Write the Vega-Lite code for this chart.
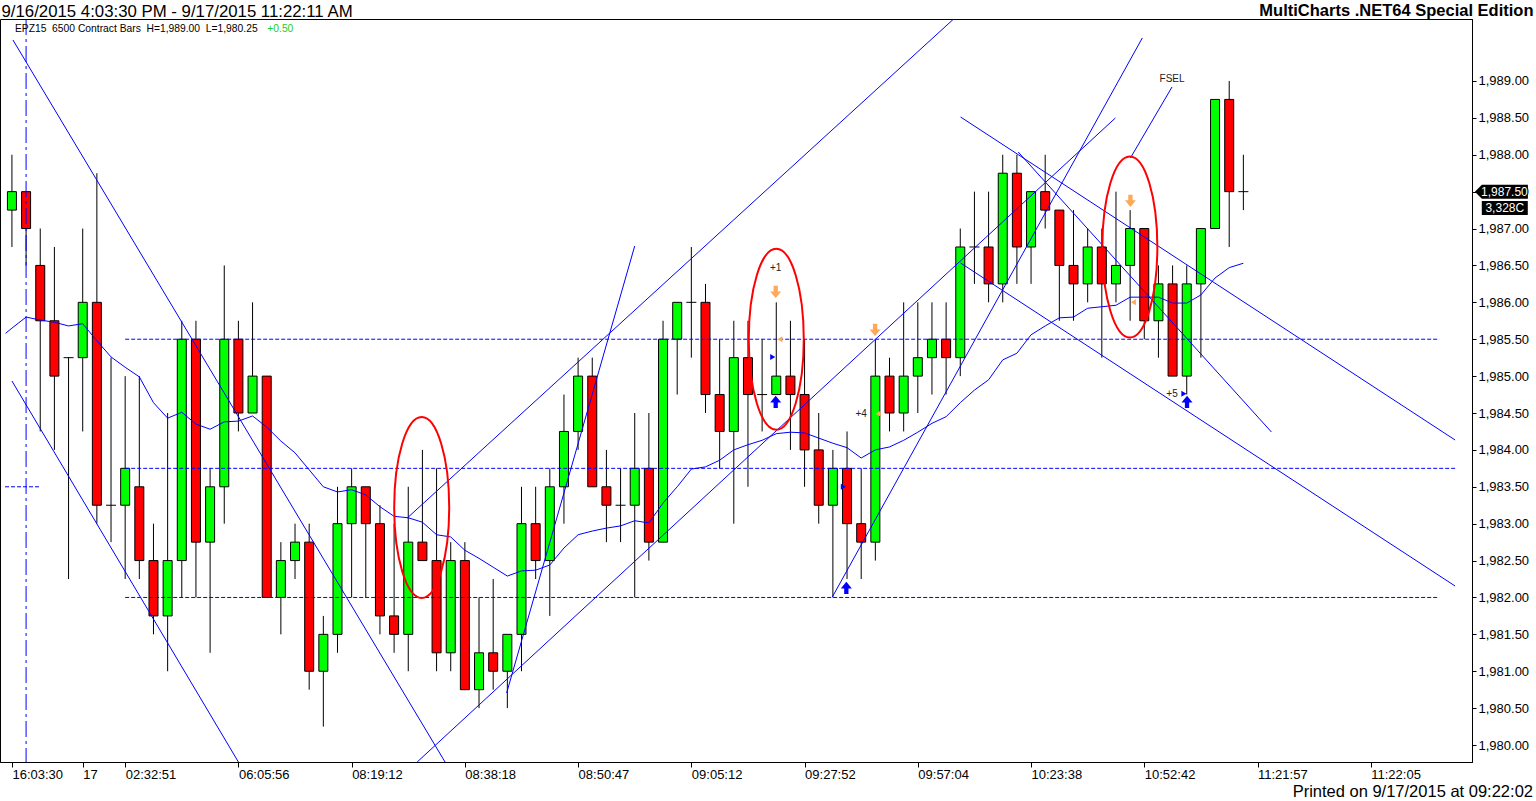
{
  "$schema": "https://vega.github.io/schema/vega-lite/v6.json",
  "description": "EPZ15 6500 contract bars with trend lines, moving average and signal markers.",
  "width": 1472,
  "height": 743,
  "autosize": {"type": "none"},
  "padding": {"left": 0, "top": 19, "right": 64, "bottom": 39},
  "background": "white",
  "title": {
    "text": "Printed on 9/17/2015 at 09:22:02",
    "orient": "bottom",
    "anchor": "end",
    "frame": "group",
    "fontSize": 16.5,
    "fontWeight": "normal",
    "color": "black",
    "baseline": "alphabetic",
    "offset": 16,
    "dx": 61
  },
  "config": {
    "font": "Liberation Sans",
    "view": {"stroke": "black", "strokeWidth": 1}
  },
  "datasets": {
    "candles": [
      {"i": 0, "o": 1987.25, "h": 1988.0, "l": 1986.75, "c": 1987.5},
      {"i": 1, "o": 1987.5, "h": 1987.5, "l": 1986.5, "c": 1987.0},
      {"i": 2, "o": 1986.5, "h": 1987.0, "l": 1984.25, "c": 1985.75},
      {"i": 3, "o": 1985.75, "h": 1986.75, "l": 1984.0, "c": 1985.0},
      {"i": 4, "o": 1985.25, "h": 1985.25, "l": 1982.25, "c": 1985.25},
      {"i": 5, "o": 1985.25, "h": 1987.0, "l": 1984.25, "c": 1986.0},
      {"i": 6, "o": 1986.0, "h": 1987.75, "l": 1983.0, "c": 1983.25},
      {"i": 7, "o": 1983.25, "h": 1985.25, "l": 1982.75, "c": 1983.25},
      {"i": 8, "o": 1983.25, "h": 1985.0, "l": 1982.25, "c": 1983.75},
      {"i": 9, "o": 1983.5, "h": 1985.0, "l": 1982.25, "c": 1982.5},
      {"i": 10, "o": 1982.5, "h": 1983.0, "l": 1981.5, "c": 1981.75},
      {"i": 11, "o": 1981.75, "h": 1984.5, "l": 1981.0, "c": 1982.5},
      {"i": 12, "o": 1982.5, "h": 1985.75, "l": 1982.0, "c": 1985.5},
      {"i": 13, "o": 1985.5, "h": 1985.75, "l": 1982.0, "c": 1982.75},
      {"i": 14, "o": 1982.75, "h": 1983.75, "l": 1981.25, "c": 1983.5},
      {"i": 15, "o": 1983.5, "h": 1986.5, "l": 1983.0, "c": 1985.5},
      {"i": 16, "o": 1985.5, "h": 1985.75, "l": 1984.25, "c": 1984.5},
      {"i": 17, "o": 1984.5, "h": 1986.0, "l": 1984.5, "c": 1985.0},
      {"i": 18, "o": 1985.0, "h": 1985.0, "l": 1982.0, "c": 1982.0},
      {"i": 19, "o": 1982.0, "h": 1982.75, "l": 1981.5, "c": 1982.5},
      {"i": 20, "o": 1982.5, "h": 1983.0, "l": 1982.25, "c": 1982.75},
      {"i": 21, "o": 1982.75, "h": 1983.0, "l": 1980.75, "c": 1981.0},
      {"i": 22, "o": 1981.0, "h": 1981.75, "l": 1980.25, "c": 1981.5},
      {"i": 23, "o": 1981.5, "h": 1983.5, "l": 1981.25, "c": 1983.0},
      {"i": 24, "o": 1983.0, "h": 1983.75, "l": 1982.0, "c": 1983.5},
      {"i": 25, "o": 1983.5, "h": 1983.5, "l": 1982.0, "c": 1983.0},
      {"i": 26, "o": 1983.0, "h": 1983.25, "l": 1981.5, "c": 1981.75},
      {"i": 27, "o": 1981.75, "h": 1983.0, "l": 1981.25, "c": 1981.5},
      {"i": 28, "o": 1981.5, "h": 1983.5, "l": 1981.0, "c": 1982.75},
      {"i": 29, "o": 1982.75, "h": 1984.0, "l": 1982.5, "c": 1982.5},
      {"i": 30, "o": 1982.5, "h": 1983.75, "l": 1981.0, "c": 1981.25},
      {"i": 31, "o": 1981.25, "h": 1982.75, "l": 1981.0, "c": 1982.5},
      {"i": 32, "o": 1982.5, "h": 1982.75, "l": 1980.75, "c": 1980.75},
      {"i": 33, "o": 1980.75, "h": 1982.0, "l": 1980.5, "c": 1981.25},
      {"i": 34, "o": 1981.25, "h": 1982.25, "l": 1980.75, "c": 1981.0},
      {"i": 35, "o": 1981.0, "h": 1981.5, "l": 1980.5, "c": 1981.5},
      {"i": 36, "o": 1981.5, "h": 1983.5, "l": 1981.0, "c": 1983.0},
      {"i": 37, "o": 1983.0, "h": 1983.5, "l": 1982.25, "c": 1982.5},
      {"i": 38, "o": 1982.5, "h": 1983.75, "l": 1981.75, "c": 1983.5},
      {"i": 39, "o": 1983.5, "h": 1984.75, "l": 1983.0, "c": 1984.25},
      {"i": 40, "o": 1984.25, "h": 1985.25, "l": 1984.0, "c": 1985.0},
      {"i": 41, "o": 1985.0, "h": 1985.25, "l": 1983.5, "c": 1983.5},
      {"i": 42, "o": 1983.5, "h": 1984.0, "l": 1982.75, "c": 1983.25},
      {"i": 43, "o": 1983.25, "h": 1983.75, "l": 1982.75, "c": 1983.25},
      {"i": 44, "o": 1983.25, "h": 1984.5, "l": 1982.0, "c": 1983.75},
      {"i": 45, "o": 1983.75, "h": 1984.5, "l": 1982.5, "c": 1982.75},
      {"i": 46, "o": 1982.75, "h": 1985.75, "l": 1982.75, "c": 1985.5},
      {"i": 47, "o": 1985.5, "h": 1986.0, "l": 1984.75, "c": 1986.0},
      {"i": 48, "o": 1986.0, "h": 1986.75, "l": 1985.25, "c": 1986.0},
      {"i": 49, "o": 1986.0, "h": 1986.25, "l": 1984.5, "c": 1984.75},
      {"i": 50, "o": 1984.75, "h": 1985.5, "l": 1983.75, "c": 1984.25},
      {"i": 51, "o": 1984.25, "h": 1985.75, "l": 1983.0, "c": 1985.25},
      {"i": 52, "o": 1985.25, "h": 1985.75, "l": 1983.5, "c": 1984.75},
      {"i": 53, "o": 1984.75, "h": 1985.5, "l": 1984.25, "c": 1984.75},
      {"i": 54, "o": 1984.75, "h": 1986.0, "l": 1984.75, "c": 1985.0},
      {"i": 55, "o": 1985.0, "h": 1985.75, "l": 1984.0, "c": 1984.75},
      {"i": 56, "o": 1984.75, "h": 1985.5, "l": 1983.5, "c": 1984.0},
      {"i": 57, "o": 1984.0, "h": 1984.5, "l": 1983.0, "c": 1983.25},
      {"i": 58, "o": 1983.25, "h": 1984.0, "l": 1982.0, "c": 1983.75},
      {"i": 59, "o": 1983.75, "h": 1984.25, "l": 1982.25, "c": 1983.0},
      {"i": 60, "o": 1983.0, "h": 1983.75, "l": 1982.25, "c": 1982.75},
      {"i": 61, "o": 1982.75, "h": 1985.5, "l": 1982.5, "c": 1985.0},
      {"i": 62, "o": 1985.0, "h": 1985.25, "l": 1984.25, "c": 1984.5},
      {"i": 63, "o": 1984.5, "h": 1986.0, "l": 1984.25, "c": 1985.0},
      {"i": 64, "o": 1985.0, "h": 1986.0, "l": 1984.5, "c": 1985.25},
      {"i": 65, "o": 1985.25, "h": 1986.0, "l": 1984.75, "c": 1985.5},
      {"i": 66, "o": 1985.5, "h": 1986.0, "l": 1984.75, "c": 1985.25},
      {"i": 67, "o": 1985.25, "h": 1987.0, "l": 1985.0, "c": 1986.75},
      {"i": 68, "o": 1986.75, "h": 1987.5, "l": 1986.25, "c": 1986.75},
      {"i": 69, "o": 1986.75, "h": 1987.5, "l": 1986.0, "c": 1986.25},
      {"i": 70, "o": 1986.25, "h": 1988.0, "l": 1986.0, "c": 1987.75},
      {"i": 71, "o": 1987.75, "h": 1988.0, "l": 1986.25, "c": 1986.75},
      {"i": 72, "o": 1986.75, "h": 1987.5, "l": 1986.25, "c": 1987.5},
      {"i": 73, "o": 1987.5, "h": 1988.0, "l": 1987.0, "c": 1987.25},
      {"i": 74, "o": 1987.25, "h": 1987.25, "l": 1985.75, "c": 1986.5},
      {"i": 75, "o": 1986.5, "h": 1987.25, "l": 1985.75, "c": 1986.25},
      {"i": 76, "o": 1986.25, "h": 1987.0, "l": 1986.0, "c": 1986.75},
      {"i": 77, "o": 1986.75, "h": 1987.0, "l": 1985.25, "c": 1986.25},
      {"i": 78, "o": 1986.25, "h": 1987.5, "l": 1986.0, "c": 1986.5},
      {"i": 79, "o": 1986.5, "h": 1987.25, "l": 1985.75, "c": 1987.0},
      {"i": 80, "o": 1987.0, "h": 1987.0, "l": 1985.5, "c": 1985.75},
      {"i": 81, "o": 1985.75, "h": 1986.5, "l": 1985.25, "c": 1986.25},
      {"i": 82, "o": 1986.25, "h": 1986.5, "l": 1985.0, "c": 1985.0},
      {"i": 83, "o": 1985.0, "h": 1986.5, "l": 1984.75, "c": 1986.25},
      {"i": 84, "o": 1986.25, "h": 1987.0, "l": 1985.25, "c": 1987.0},
      {"i": 85, "o": 1987.0, "h": 1988.75, "l": 1987.0, "c": 1988.75},
      {"i": 86, "o": 1988.75, "h": 1989.0, "l": 1986.75, "c": 1987.5},
      {"i": 87, "o": 1987.5, "h": 1988.0, "l": 1987.25, "c": 1987.5}
    ],
    "average": [
      {"i": -0.45, "v": 1985.58}, {"i": 0, "v": 1985.65}, {"i": 1, "v": 1985.8}, {"i": 2, "v": 1985.76},
      {"i": 3, "v": 1985.73}, {"i": 4, "v": 1985.68}, {"i": 5, "v": 1985.71}, {"i": 6, "v": 1985.48},
      {"i": 7, "v": 1985.26}, {"i": 8, "v": 1985.12}, {"i": 9, "v": 1984.99}, {"i": 10, "v": 1984.64},
      {"i": 11, "v": 1984.43}, {"i": 12, "v": 1984.51}, {"i": 13, "v": 1984.35}, {"i": 14, "v": 1984.28},
      {"i": 15, "v": 1984.38}, {"i": 16, "v": 1984.39}, {"i": 17, "v": 1984.46}, {"i": 18, "v": 1984.31},
      {"i": 19, "v": 1984.12}, {"i": 20, "v": 1983.96}, {"i": 21, "v": 1983.73}, {"i": 22, "v": 1983.5},
      {"i": 23, "v": 1983.43}, {"i": 24, "v": 1983.46}, {"i": 25, "v": 1983.39}, {"i": 26, "v": 1983.23},
      {"i": 27, "v": 1983.1}, {"i": 28, "v": 1983.08}, {"i": 29, "v": 1983.02}, {"i": 30, "v": 1982.85},
      {"i": 31, "v": 1982.82}, {"i": 32, "v": 1982.64}, {"i": 33, "v": 1982.53}, {"i": 34, "v": 1982.41},
      {"i": 35, "v": 1982.29}, {"i": 36, "v": 1982.36}, {"i": 37, "v": 1982.37}, {"i": 38, "v": 1982.44},
      {"i": 39, "v": 1982.67}, {"i": 40, "v": 1982.85}, {"i": 41, "v": 1982.9}, {"i": 42, "v": 1982.94},
      {"i": 43, "v": 1982.97}, {"i": 44, "v": 1983.04}, {"i": 45, "v": 1983.01}, {"i": 46, "v": 1983.28},
      {"i": 47, "v": 1983.5}, {"i": 48, "v": 1983.74}, {"i": 49, "v": 1983.77}, {"i": 50, "v": 1983.86},
      {"i": 51, "v": 1984.0}, {"i": 52, "v": 1984.07}, {"i": 53, "v": 1984.13}, {"i": 54, "v": 1984.22},
      {"i": 55, "v": 1984.24}, {"i": 56, "v": 1984.23}, {"i": 57, "v": 1984.16}, {"i": 58, "v": 1984.09},
      {"i": 59, "v": 1984.03}, {"i": 60, "v": 1983.89}, {"i": 61, "v": 1984.0}, {"i": 62, "v": 1984.04},
      {"i": 63, "v": 1984.13}, {"i": 64, "v": 1984.24}, {"i": 65, "v": 1984.36}, {"i": 66, "v": 1984.45},
      {"i": 67, "v": 1984.64}, {"i": 68, "v": 1984.81}, {"i": 69, "v": 1984.95}, {"i": 70, "v": 1985.22},
      {"i": 71, "v": 1985.31}, {"i": 72, "v": 1985.56}, {"i": 73, "v": 1985.68}, {"i": 74, "v": 1985.79},
      {"i": 75, "v": 1985.8}, {"i": 76, "v": 1985.92}, {"i": 77, "v": 1985.94}, {"i": 78, "v": 1985.96},
      {"i": 79, "v": 1986.07}, {"i": 80, "v": 1986.07}, {"i": 81, "v": 1986.07}, {"i": 82, "v": 1985.99},
      {"i": 83, "v": 1985.99}, {"i": 84, "v": 1986.1}, {"i": 85, "v": 1986.33}, {"i": 86, "v": 1986.47},
      {"i": 87, "v": 1986.53}
    ],
    "trendlines": [
      {"i": 0.07, "v": 1989.556, "i2": 30.6, "v2": 1979.77},
      {"i": 0, "v": 1984.934, "i2": 16.0, "v2": 1979.77},
      {"i": 27.93, "v": 1983.077, "i2": 66.53, "v2": 1989.84},
      {"i": 28.63, "v": 1979.77, "i2": 77.96, "v2": 1988.499},
      {"i": 34.95, "v": 1980.705, "i2": 44.0, "v2": 1986.764},
      {"i": 57.96, "v": 1982.006, "i2": 79.86, "v2": 1989.583},
      {"i": 67.02, "v": 1988.512, "i2": 101.96, "v2": 1984.134},
      {"i": 71.09, "v": 1988.038, "i2": 88.98, "v2": 1984.243},
      {"i": 67.02, "v": 1986.533, "i2": 101.96, "v2": 1982.155},
      {"i": 79.02, "v": 1987.956, "i2": 81.96, "v2": 1988.919}
    ],
    "levels": [
      {"i": -0.49, "i2": 1.96, "v": 1983.5},
      {"i": 8, "i2": 100.84, "v": 1985.5},
      {"i": 8, "i2": 101.96, "v": 1983.75},
      {"i": 8, "i2": 100.84, "v": 1982.0}
    ],
    "session": [{"i": 1}],
    "ovals": [
      {"i": 28.95, "v": 1983.22},
      {"i": 54.0, "v": 1985.5},
      {"i": 78.98, "v": 1986.75}
    ],
    "sellArrows": [
      {"i": 53.96, "v": 1986.14},
      {"i": 60.98, "v": 1985.625},
      {"i": 79.02, "v": 1987.374}
    ],
    "buyArrows": [
      {"i": 53.96, "v": 1984.65},
      {"i": 58.95, "v": 1982.13},
      {"i": 83.02, "v": 1984.65}
    ],
    "sellMarks": [
      {"i": 54.25, "v": 1985.5},
      {"i": 61.19, "v": 1984.49},
      {"i": 79.23, "v": 1986.0}
    ],
    "buyMarks": [
      {"i": 53.75, "v": 1985.26},
      {"i": 58.74, "v": 1983.5},
      {"i": 82.8, "v": 1984.76}
    ],
    "notes": [
      {"i": 53.96, "v": 1986.47, "t": "+1"},
      {"i": 60.0, "v": 1984.49, "t": "+4"},
      {"i": 81.96, "v": 1984.76, "t": "+5"},
      {"i": 81.96, "v": 1989.03, "t": "FSEL"}
    ],
    "header": [
      {"i": 0.21, "v": 1989.705, "t": "EPZ15\u00a0 6500 Contract Bars\u00a0 H=1,989.00\u00a0 L=1,980.25"}
    ],
    "change": [
      {"i": 18.04, "v": 1989.705, "t": "+0.50"}
    ],
    "lastPrice": [
      {"i": 105.23, "v": 1987.5, "t": "1,987.50"}
    ],
    "lastVolume": [
      {"i": 105.47, "v": 1987.279, "t": "3,328C"}
    ]
  },
  "encoding": {
    "x": {
      "field": "i",
      "type": "quantitative",
      "scale": {"domain": [-0.49, 102.8], "nice": false, "zero": false},
      "axis": {
        "title": "9/16/2015 4:03:30 PM - 9/17/2015 11:22:11 AM",
        "titleX": 1,
        "titleY": -746,
        "titleAlign": "left",
        "titleAnchor": null,
        "titleBaseline": "alphabetic",
        "titleFontSize": 16.8,
        "titleFontWeight": "normal",
        "titleColor": "black",
        "values": [0, 5, 8, 16, 24, 32, 40, 48, 56, 64, 72, 80, 88, 96],
        "labelExpr": "datum.value == 0 ? '16:03:30' : datum.value == 5 ? '17' : datum.value == 8 ? '02:32:51' : datum.value == 16 ? '06:05:56' : datum.value == 24 ? '08:19:12' : datum.value == 32 ? '08:38:18' : datum.value == 40 ? '08:50:47' : datum.value == 48 ? '09:05:12' : datum.value == 56 ? '09:27:52' : datum.value == 64 ? '09:57:04' : datum.value == 72 ? '10:23:38' : datum.value == 80 ? '10:52:42' : datum.value == 88 ? '11:21:57' : '11:22:05'",
        "labelAlign": "left",
        "labelBaseline": "middle",
        "labelDx": 3,
        "labelPadding": 7,
        "labelFontSize": 13,
        "labelColor": "black",
        "labelOverlap": false,
        "labelFlush": false,
        "tickSize": 5,
        "tickColor": "black",
        "domainColor": "black",
        "grid": false
      }
    }
  },
  "layer": [
    {
      "data": {"name": "candles"},
      "mark": {"type": "rule", "color": "black", "strokeWidth": 1},
      "encoding": {
        "y": {
          "field": "l",
          "type": "quantitative",
          "scale": {"domain": [1979.77, 1989.84], "nice": false, "zero": false},
          "axis": {
            "orient": "right",
            "title": "MultiCharts .NET64 Special Edition",
            "titleAngle": 0,
            "titleX": 61,
            "titleY": -4,
            "titleAlign": "right",
            "titleAnchor": null,
            "titleBaseline": "alphabetic",
            "titleFontSize": 16.5,
            "titleFontWeight": "bold",
            "titleColor": "black",
            "values": [1980, 1980.25, 1980.5, 1980.75, 1981, 1981.25, 1981.5, 1981.75, 1982, 1982.25, 1982.5, 1982.75, 1983, 1983.25, 1983.5, 1983.75, 1984, 1984.25, 1984.5, 1984.75, 1985, 1985.25, 1985.5, 1985.75, 1986, 1986.25, 1986.5, 1986.75, 1987, 1987.25, 1987.5, 1987.75, 1988, 1988.25, 1988.5, 1988.75, 1989],
            "labelExpr": "datum.value % 0.5 == 0 ? format(datum.value, ',.2f') : ''",
            "labelAlign": "left",
            "labelBaseline": "middle",
            "labelPadding": 2,
            "labelFontSize": 13,
            "labelColor": "black",
            "labelOverlap": false,
            "labelFlush": false,
            "tickSize": 4,
            "tickColor": "black",
            "domainColor": "black",
            "grid": false
          }
        },
        "y2": {"field": "h"}
      }
    },
    {
      "data": {"name": "candles"},
      "transform": [{"filter": "datum.o != datum.c"}],
      "mark": {"type": "bar", "width": 9, "stroke": "black", "strokeWidth": 1},
      "encoding": {
        "y": {"field": "o", "type": "quantitative", "scale": {"domain": [1979.77, 1989.84], "nice": false, "zero": false}},
        "y2": {"field": "c"},
        "fill": {"condition": {"test": "datum.c > datum.o", "value": "#00ff00"}, "value": "#ff0000"}
      }
    },
    {
      "data": {"name": "candles"},
      "transform": [{"filter": "datum.o == datum.c"}],
      "mark": {"type": "tick", "orient": "horizontal", "size": 10, "thickness": 1, "color": "black", "opacity": 1},
      "encoding": {
        "y": {"field": "o", "type": "quantitative", "scale": {"domain": [1979.77, 1989.84], "nice": false, "zero": false}}
      }
    },
    {
      "data": {"name": "levels"},
      "mark": {"type": "rule", "color": "#0000ff", "strokeWidth": 1, "strokeDash": [4, 2]},
      "encoding": {
        "x2": {"field": "i2"},
        "y": {"field": "v", "type": "quantitative", "scale": {"domain": [1979.77, 1989.84], "nice": false, "zero": false}}
      }
    },
    {
      "data": {"name": "session"},
      "mark": {"type": "rule", "color": "#0000ff", "strokeWidth": 1, "strokeDash": [16, 4, 3, 4]},
      "encoding": {}
    },
    {
      "data": {"name": "average"},
      "mark": {"type": "line", "color": "#0000ff", "strokeWidth": 1},
      "encoding": {
        "y": {"field": "v", "type": "quantitative", "scale": {"domain": [1979.77, 1989.84], "nice": false, "zero": false}}
      }
    },
    {
      "data": {"name": "trendlines"},
      "mark": {"type": "rule", "color": "#0000ff", "strokeWidth": 1, "clip": true},
      "encoding": {
        "x2": {"field": "i2"},
        "y": {"field": "v", "type": "quantitative", "scale": {"domain": [1979.77, 1989.84], "nice": false, "zero": false}},
        "y2": {"field": "v2"}
      }
    },
    {
      "data": {"name": "ovals"},
      "mark": {"type": "point", "shape": "M0,-1 A0.304,1 0 1,1 0,1 A0.304,1 0 1,1 0,-1 Z", "size": 32761, "filled": false, "stroke": "#ff0000", "strokeWidth": 2, "opacity": 1},
      "encoding": {
        "y": {"field": "v", "type": "quantitative", "scale": {"domain": [1979.77, 1989.84], "nice": false, "zero": false}}
      }
    },
    {
      "data": {"name": "sellArrows"},
      "mark": {"type": "point", "shape": "M-0.35,-1 L0.35,-1 L0.35,-0.1 L0.9,-0.1 L0,1 L-0.9,-0.1 L-0.35,-0.1 Z", "size": 150, "filled": true, "color": "#ffa858", "opacity": 1},
      "encoding": {
        "y": {"field": "v", "type": "quantitative", "scale": {"domain": [1979.77, 1989.84], "nice": false, "zero": false}}
      }
    },
    {
      "data": {"name": "buyArrows"},
      "mark": {"type": "point", "shape": "M-0.35,1 L0.35,1 L0.35,0.1 L0.9,0.1 L0,-1 L-0.9,0.1 L-0.35,0.1 Z", "size": 150, "filled": true, "color": "#0000ff", "opacity": 1},
      "encoding": {
        "y": {"field": "v", "type": "quantitative", "scale": {"domain": [1979.77, 1989.84], "nice": false, "zero": false}}
      }
    },
    {
      "data": {"name": "sellMarks"},
      "mark": {"type": "point", "shape": "triangle-left", "size": 35, "filled": true, "color": "#ffa858", "opacity": 1},
      "encoding": {
        "y": {"field": "v", "type": "quantitative", "scale": {"domain": [1979.77, 1989.84], "nice": false, "zero": false}}
      }
    },
    {
      "data": {"name": "buyMarks"},
      "mark": {"type": "point", "shape": "triangle-right", "size": 35, "filled": true, "color": "#0000ff", "opacity": 1},
      "encoding": {
        "y": {"field": "v", "type": "quantitative", "scale": {"domain": [1979.77, 1989.84], "nice": false, "zero": false}}
      }
    },
    {
      "data": {"name": "notes"},
      "mark": {"type": "text", "fontSize": 10, "color": "#222222", "align": "center", "baseline": "middle"},
      "encoding": {
        "y": {"field": "v", "type": "quantitative", "scale": {"domain": [1979.77, 1989.84], "nice": false, "zero": false}},
        "text": {"field": "t"}
      }
    },
    {
      "data": {"name": "header"},
      "mark": {"type": "text", "fontSize": 10.3, "color": "black", "align": "left", "baseline": "middle"},
      "encoding": {
        "y": {"field": "v", "type": "quantitative", "scale": {"domain": [1979.77, 1989.84], "nice": false, "zero": false}},
        "text": {"field": "t"}
      }
    },
    {
      "data": {"name": "change"},
      "mark": {"type": "text", "fontSize": 10.3, "color": "#22cc22", "align": "left", "baseline": "middle"},
      "encoding": {
        "y": {"field": "v", "type": "quantitative", "scale": {"domain": [1979.77, 1989.84], "nice": false, "zero": false}},
        "text": {"field": "t"}
      }
    },
    {
      "data": {"name": "lastPrice"},
      "mark": {"type": "point", "shape": "M-1,0 L-0.736,-0.264 L1,-0.264 L1,0.264 L-0.736,0.264 Z", "size": 2809, "filled": true, "color": "black", "opacity": 1},
      "encoding": {
        "y": {"field": "v", "type": "quantitative", "scale": {"domain": [1979.77, 1989.84], "nice": false, "zero": false}}
      }
    },
    {
      "data": {"name": "lastPrice"},
      "mark": {"type": "text", "fontSize": 12, "color": "white", "align": "center", "baseline": "middle", "dx": 3},
      "encoding": {
        "y": {"field": "v", "type": "quantitative", "scale": {"domain": [1979.77, 1989.84], "nice": false, "zero": false}},
        "text": {"field": "t"}
      }
    },
    {
      "data": {"name": "lastVolume"},
      "mark": {"type": "point", "shape": "M-1,-0.304 L1,-0.304 L1,0.304 L-1,0.304 Z", "size": 2116, "filled": true, "color": "black", "opacity": 1},
      "encoding": {
        "y": {"field": "v", "type": "quantitative", "scale": {"domain": [1979.77, 1989.84], "nice": false, "zero": false}}
      }
    },
    {
      "data": {"name": "lastVolume"},
      "mark": {"type": "text", "fontSize": 12, "color": "white", "align": "center", "baseline": "middle"},
      "encoding": {
        "y": {"field": "v", "type": "quantitative", "scale": {"domain": [1979.77, 1989.84], "nice": false, "zero": false}},
        "text": {"field": "t"}
      }
    }
  ]
}
